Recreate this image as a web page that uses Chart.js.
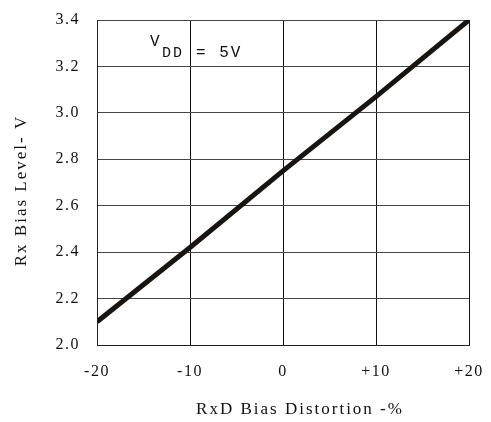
<!DOCTYPE html>
<html>
<head>
<meta charset="utf-8">
<script src="https://cdn.jsdelivr.net/npm/chart.js@4"></script>
<style>
  html, body { margin: 0; padding: 0; background: #fff; }
  #wrap { width: 491px; height: 422px; }
</style>
</head>
<body>
<div id="wrap"><canvas id="biasChart"></canvas></div>
<script>
// data
const distortion = [-20, -10, 0, 10, 20];
const biasLevel = [2.1, 2.42, 2.75, 3.07, 3.4];
const xTickLabels = ['-20', '-10', '0', '+10', '+20'];
const yTickLabels = ['2.0', '2.2', '2.4', '2.6', '2.8', '3.0', '3.2', '3.4'];
const xTitle = 'RxD Bias Distortion -%';
const yTitle = 'Rx Bias Level- V';

// letter spacing + axis titles + VDD note
const textPlugin = {
    id: 'textPlugin',
    beforeDraw(chart) {
        chart.ctx.letterSpacing = '1.5px';
    },
    afterDraw(chart) {
        const ctx = chart.ctx;
        const area = chart.chartArea;
        ctx.save();
        ctx.fillStyle = '#111';
        ctx.letterSpacing = '2px';
        ctx.font = '17px "Liberation Serif"';
        ctx.textAlign = 'center';
        ctx.textBaseline = 'middle';
        ctx.fillText(xTitle, (area.left + area.right) / 2 + 17, 410);

        ctx.translate(22, (area.top + area.bottom) / 2 + 8);
        ctx.rotate(-Math.PI / 2);
        ctx.fillText(yTitle, 0, 0);
        ctx.restore();

        // V_DD = 5V
        ctx.save();
        ctx.fillStyle = '#111';
        ctx.textAlign = 'left';
        ctx.textBaseline = 'alphabetic';
        ctx.letterSpacing = '2px';
        ctx.font = '16px "Liberation Mono"';
        ctx.fillText('V', area.left + 53, area.top + 26);
        ctx.font = '15px "Liberation Mono"';
        ctx.fillText('DD', area.left + 65, area.top + 37);
        ctx.font = '16px "Liberation Mono"';
        ctx.fillText('= 5V', area.left + 99, area.top + 37);
        ctx.restore();
    }
};

const data = {
    datasets: [{
        data: distortion.map((x, i) => ({ x: x, y: biasLevel[i] })),
        borderColor: '#1a1410',
        borderWidth: 5,
        pointRadius: 0,
        fill: false,
        tension: 0
    }]
};

const config = {
    type: 'line',
    data: data,
    plugins: [textPlugin],
    options: {
        responsive: true,
        maintainAspectRatio: false,
        animation: false,
        layout: { padding: { left: 0, right: 22, top: 20, bottom: 0 } },
        plugins: {
            legend: { display: false },
            tooltip: { enabled: false }
        },
        scales: {
            x: {
                type: 'linear',
                min: -20,
                max: 20,
                afterFit: function(scale) {
                    scale.height = 77;
                    scale.paddingLeft = 0;
                    scale.paddingRight = 0;
                },
                border: { display: true, color: '#222', width: 1 },
                grid: { color: '#111', lineWidth: 1, drawTicks: false },
                ticks: {
                    stepSize: 10,
                    padding: 17,
                    color: '#111',
                    font: { family: 'Liberation Serif', size: 16 },
                    maxRotation: 0,
                    callback: function(value, index) { return xTickLabels[index]; }
                }
            },
            y: {
                min: 2.0,
                max: 3.4,
                afterFit: function(scale) {
                    scale.width = 97;
                    scale.paddingTop = 0;
                    scale.paddingBottom = 0;
                },
                border: { display: true, color: '#222', width: 1 },
                grid: { color: '#444', lineWidth: 1, drawTicks: false },
                ticks: {
                    stepSize: 0.2,
                    padding: 17,
                    color: '#111',
                    font: { family: 'Liberation Serif', size: 16 },
                    callback: function(value, index) { return yTickLabels[index]; }
                }
            }
        }
    }
};

const myChart = new Chart(document.getElementById('biasChart'), config);
</script>
</body>
</html>
